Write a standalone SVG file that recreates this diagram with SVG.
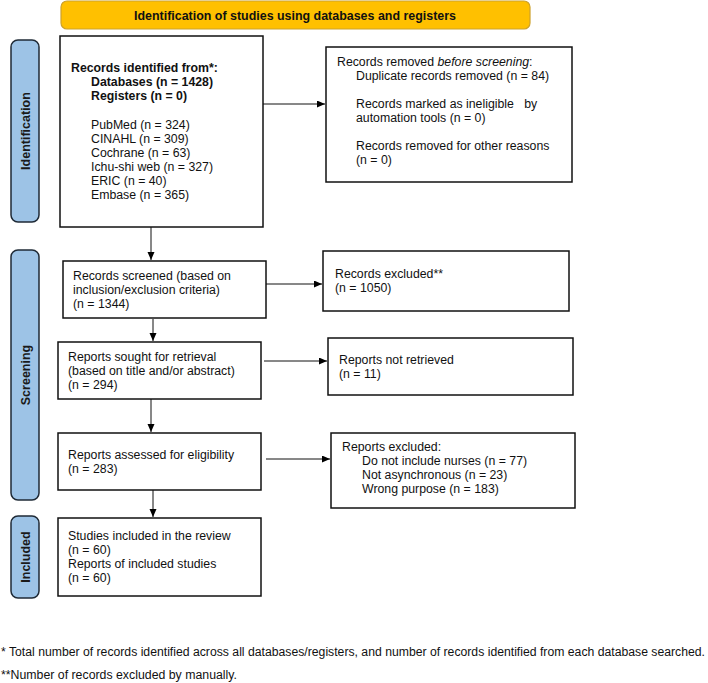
<svg xmlns="http://www.w3.org/2000/svg" width="708" height="683" viewBox="0 0 708 683">
<defs>
<marker id="ah" markerWidth="8" markerHeight="8" refX="8" refY="3.5" orient="auto" markerUnits="userSpaceOnUse">
<path d="M0,0 L8,3.5 L0,7 Z" fill="#000"/>
</marker>
<style>
text{font-family:"Liberation Sans",Arial,sans-serif;font-size:12.3px;fill:#111}
.b{font-weight:bold}
.box{fill:#fff;stroke:#111;stroke-width:1.5}
.side{fill:#9DC3E6;stroke:#1F2A36;stroke-width:1.5}
.con line{stroke:#111;stroke-width:1}
.st{font-weight:bold;font-size:12.5px;fill:#1a1a1a}
.fn{font-size:12px}
</style>
</defs>
<rect width="708" height="683" fill="#fff"/>
<g id="banner">
<rect x="61" y="1" width="469" height="28" rx="6" fill="#FFC000" stroke="#CDA12B" stroke-width="1.2"/>
<text x="295" y="19.5" class="b" text-anchor="middle" textLength="322" lengthAdjust="spacingAndGlyphs">Identification of studies using databases and registers</text>
</g>
<g id="side-identification">
<rect class="side" x="11" y="40" width="28" height="182" rx="7"/>
<text class="st" transform="translate(29.5,131) rotate(-90)" text-anchor="middle">Identification</text>
</g>
<g id="side-screening">
<rect class="side" x="11" y="250" width="28" height="250" rx="7"/>
<text class="st" transform="translate(29.5,375) rotate(-90)" text-anchor="middle">Screening</text>
</g>
<g id="side-included">
<rect class="side" x="11" y="516" width="28" height="82" rx="7"/>
<text class="st" transform="translate(29.5,557) rotate(-90)" text-anchor="middle">Included</text>
</g>
<g id="records-identified">
<rect class="box" x="60" y="36" width="203" height="191"/>
<text x="71" y="72" class="b">Records identified from*:</text>
<text x="91" y="86" class="b">Databases (n = 1428)</text>
<text x="91" y="100" class="b">Registers (n = 0)</text>
<text x="91" y="129">PubMed (n = 324)</text>
<text x="91" y="143">CINAHL (n = 309)</text>
<text x="91" y="157">Cochrane (n = 63)</text>
<text x="91" y="171">Ichu-shi web (n = 327)</text>
<text x="91" y="185">ERIC (n = 40)</text>
<text x="91" y="199">Embase (n = 365)</text>
</g>
<g id="records-removed">
<rect class="box" x="326" y="47" width="246" height="135"/>
<text x="337" y="66">Records removed <tspan font-style="italic">before screening</tspan>:</text>
<text x="356" y="80">Duplicate records removed (n = 84)</text>
<text x="356" y="108" xml:space="preserve">Records marked as ineligible   by</text>
<text x="356" y="122">automation tools (n = 0)</text>
<text x="356" y="150">Records removed for other reasons</text>
<text x="356" y="164">(n = 0)</text>
</g>
<g id="records-screened">
<rect class="box" x="63" y="261" width="203" height="57"/>
<text x="73" y="280">Records screened (based on</text>
<text x="73" y="294">inclusion/exclusion criteria)</text>
<text x="73" y="308">(n = 1344)</text>
</g>
<g id="records-excluded">
<rect class="box" x="323" y="251" width="246" height="60"/>
<text x="335" y="278">Records excluded**</text>
<text x="335" y="292">(n = 1050)</text>
</g>
<g id="reports-sought">
<rect class="box" x="58" y="342" width="203" height="57"/>
<text x="68" y="361">Reports sought for retrieval</text>
<text x="68" y="375">(based on title and/or abstract)</text>
<text x="68" y="389">(n = 294)</text>
</g>
<g id="reports-not-retrieved">
<rect class="box" x="328" y="338" width="245" height="57"/>
<text x="339" y="364">Reports not retrieved</text>
<text x="339" y="378">(n = 11)</text>
</g>
<g id="reports-assessed">
<rect class="box" x="58" y="433" width="203" height="57"/>
<text x="68" y="459">Reports assessed for eligibility</text>
<text x="68" y="473">(n = 283)</text>
</g>
<g id="reports-excluded">
<rect class="box" x="331" y="433" width="244" height="75"/>
<text x="342" y="451">Reports excluded:</text>
<text x="362" y="465">Do not include nurses (n = 77)</text>
<text x="362" y="479">Not asynchronous (n = 23)</text>
<text x="362" y="493">Wrong purpose (n = 183)</text>
</g>
<g id="studies-included">
<rect class="box" x="58" y="518" width="203" height="78"/>
<text x="68" y="540">Studies included in the review</text>
<text x="68" y="554">(n = 60)</text>
<text x="68" y="568">Reports of included studies</text>
<text x="68" y="582">(n = 60)</text>
</g>
<g id="connectors" class="con">
<line x1="263" y1="104" x2="325" y2="104" marker-end="url(#ah)"/>
<line x1="151" y1="227" x2="151" y2="260" marker-end="url(#ah)"/>
<line x1="266" y1="284" x2="322" y2="284" marker-end="url(#ah)"/>
<line x1="153" y1="319" x2="153" y2="341" marker-end="url(#ah)"/>
<line x1="264" y1="361" x2="327" y2="361" marker-end="url(#ah)"/>
<line x1="151" y1="399" x2="151" y2="432" marker-end="url(#ah)"/>
<line x1="266" y1="459" x2="330" y2="459" marker-end="url(#ah)"/>
<line x1="153" y1="490" x2="153" y2="517" marker-end="url(#ah)"/>
</g>
<g id="footnotes">
<text class="fn" x="1" y="656" textLength="704" lengthAdjust="spacingAndGlyphs">* Total number of records identified across all databases/registers, and number of records identified from each database searched.</text>
<text class="fn" x="1" y="679" textLength="236" lengthAdjust="spacingAndGlyphs">**Number of records excluded by manually.</text>
</g>
</svg>
